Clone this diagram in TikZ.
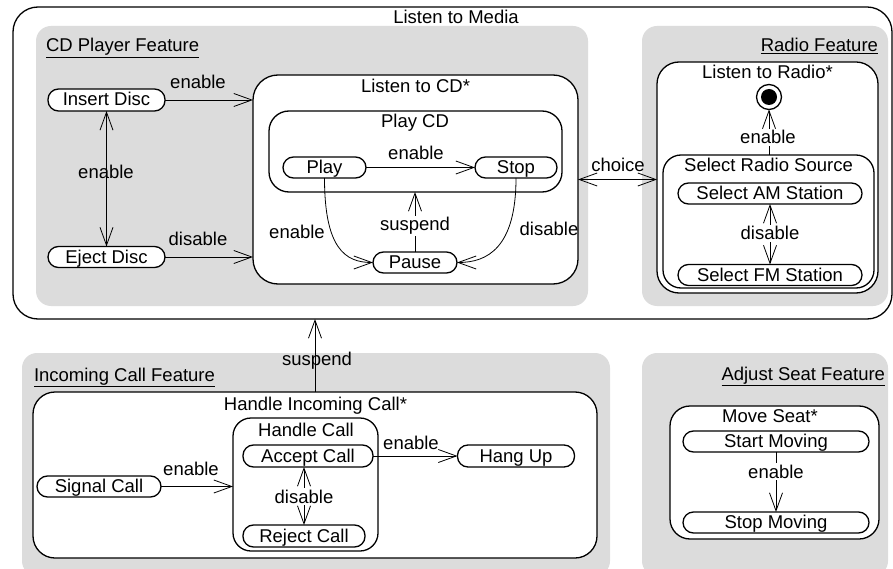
\documentclass[tikz,border=0pt]{standalone}
\usepackage{fontspec}
\setmainfont{Liberation Sans}
\usetikzlibrary{arrows.meta}
\definecolor{featgray}{RGB}{220,220,220}
\tikzset{
  every node/.style={font=\fontsize{18.5}{22}\selectfont, inner sep=0pt, outer sep=0pt},
  feature/.style={fill=featgray, rounded corners=15pt},
  statebox/.style={draw, line width=1.3pt, fill=white, rounded corners=#1},
  pill/.style={draw, line width=1.3pt, fill=white, rounded corners=10.5pt, text height=15pt, text depth=3pt},
  conn/.style={line width=0.8pt, ->},
  bconn/.style={line width=0.8pt, <->},
  lbl/.style={anchor=base},
  wlbl/.style={anchor=base, fill=white, inner sep=1.5pt},
}
\begin{document}
\begin{tikzpicture}[x=1pt, y=-1pt, >={Straight Barb[length=18pt,width=13pt]}]
\useasboundingbox (0,0) rectangle (893,569);
\begin{scope}
\clip (0,0) rectangle (893,569);
% outer state
\node[statebox=25pt, minimum width=879pt, minimum height=312pt] (LM) at (452.5,163) {};
\node[lbl] (tLM) at (456,24) {Listen to Media};
% feature areas
\node[feature, minimum width=552pt, minimum height=280pt] (CDF) at (312,166) {};
\node[feature, minimum width=246pt, minimum height=280pt] (RF) at (765,166) {};
\node[feature, minimum width=588pt, minimum height=223pt] (ICF) at (316,464.5) {};
\node[feature, minimum width=246pt, minimum height=223pt] (ASF) at (765,464.5) {};
\node[anchor=base west] (tCDF) at (46,52) {\underline{CD Player Feature}};
\node[anchor=base east] (tRF) at (878,52) {\underline{Radio Feature}};
\node[anchor=base west] (tICF) at (34,381) {\underline{Incoming Call Feature}};
\node[anchor=base east] (tASF) at (885,380) {\underline{Adjust Seat Feature}};

% CD player
\node[pill, minimum width=117pt, minimum height=22pt] (Insert) at (106.5,100) {Insert Disc};
\node[pill, minimum width=117pt, minimum height=21pt] (Eject) at (106.5,257) {Eject Disc};
\node[statebox=25pt, minimum width=325pt, minimum height=209pt] (LCD) at (415.5,179.5) {};
\node[lbl] (tLCD) at (415.5,93) {Listen to CD*};
\node[statebox=20pt, minimum width=293pt, minimum height=81pt] (PCD) at (415.5,151.5) {};
\node[lbl] (tPCD) at (415,128) {Play CD};
\node[pill, minimum width=83pt, minimum height=21pt] (Play) at (324.5,167.5) {Play};
\node[pill, minimum width=82pt, minimum height=21pt] (Stop) at (516,167.5) {Stop};
\node[pill, minimum width=84pt, minimum height=21pt] (Pause) at (415,262.5) {Pause};

\draw[conn] (Insert.east) -- (Insert.east -| LCD.west);
\node[lbl] (l1) at (198,89) {enable};
\draw[conn] (Eject.east) -- (Eject.east -| LCD.west);
\node[lbl] (l2) at (198,245) {disable};
\draw[bconn] (Insert.south) -- (Eject.north);
\node[lbl] (l3) at (106,179) {enable};
\draw[conn] (Play.east) -- (Stop.west);
\node[lbl] (l4) at (416,160) {enable};
\draw[conn] (Pause.north) -- (Pause.north |- PCD.south);
\node[wlbl] (l5) at (415,231) {suspend};
\draw[conn] (Play.south) .. controls (324.5,248) and (345,262.5) .. (Pause.west);
\node[lbl] (l6) at (297,238) {enable};
\draw[conn] (Stop.south) .. controls (516,248) and (487,262.5) .. (Pause.east);
\node[lbl] (l7) at (549,236) {disable};

% Radio
\node[statebox=22pt, minimum width=221pt, minimum height=231pt] (LR) at (767.5,177.5) {};
\node[lbl] (tLR) at (767.5,79) {Listen to Radio*};
\node[circle, draw, line width=1.3pt, fill=white, minimum size=25pt] (fin) at (769,97) {};
\node[circle, fill=black, minimum size=16pt] (finin) at (fin.center) {};
\node[statebox=18pt, minimum width=211pt, minimum height=133pt] (SRS) at (768.5,221.5) {};
\node[lbl] (tSRS) at (768.5,172) {Select Radio Source};
\node[pill, minimum width=184pt, minimum height=21pt] (AM) at (770,193.5) {Select AM Station};
\node[pill, minimum width=184pt, minimum height=21pt] (FM) at (770,275) {Select FM Station};
\draw[conn] (SRS.north -| fin.south) -- (fin.south);
\node[wlbl] (l8) at (768,144) {enable};
\draw[bconn] (AM.south) -- (FM.north);
\node[wlbl] (l9) at (770,240) {disable};
\draw[bconn] (LCD.east) -- (LCD.east -| LR.west);
\node[lbl] (l10) at (618,172) {choice};

% Incoming call
\node[statebox=22pt, minimum width=564pt, minimum height=166pt] (HIC) at (315,475) {};
\node[lbl] (tHIC) at (315.5,410) {Handle Incoming Call*};
\node[statebox=18pt, minimum width=145pt, minimum height=133pt] (HC) at (305.5,484.5) {};
\node[lbl] (tHC) at (306,436) {Handle Call};
\node[pill, minimum width=130pt, minimum height=22pt] (Accept) at (308,456) {Accept Call};
\node[pill, minimum width=122pt, minimum height=22pt] (Reject) at (304,536) {Reject Call};
\node[pill, minimum width=124pt, minimum height=21pt] (Signal) at (99,486.5) {Signal Call};
\node[pill, minimum width=117pt, minimum height=22pt] (Hang) at (516,456) {Hang Up};
\draw[conn] (Signal.east) -- (Signal.east -| HC.west);
\node[lbl] (l11) at (191,475) {enable};
\draw[conn] (Accept.east) -- (Hang.west);
\node[lbl] (l12) at (411,449) {enable};
\draw[bconn] (Reject.north |- Accept.south) -- (Reject.north);
\node[wlbl] (l13) at (304,503) {disable};
\draw[conn] (HIC.north) -- (HIC.north |- LM.south);
\node[lbl] (l14) at (317,365) {suspend};

% Adjust seat
\node[statebox=20pt, minimum width=209pt, minimum height=133pt] (MS) at (774.5,472.5) {};
\node[lbl] (tMS) at (770,422) {Move Seat*};
\node[pill, minimum width=186pt, minimum height=21pt] (StartM) at (776,441.5) {Start Moving};
\node[pill, minimum width=186pt, minimum height=21pt] (StopM) at (776,522.5) {Stop Moving};
\draw[conn] (StartM.south) -- (StopM.north);
\node[wlbl] (l15) at (776,478) {enable};
\end{scope}
\end{tikzpicture}
\end{document}
